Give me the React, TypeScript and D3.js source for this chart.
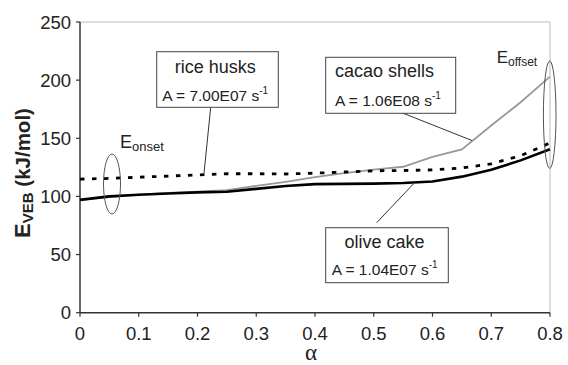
import React from "react";
import * as d3 from "d3";

const alphas = [0, 0.05, 0.1, 0.15, 0.2, 0.25, 0.3, 0.35, 0.4, 0.45, 0.5, 0.55, 0.6, 0.65, 0.7, 0.75, 0.8];
const oliveCake = [97, 100, 101.5, 102.5, 103.5, 104, 106.5, 109, 110.6, 110.8, 111, 111.5, 112.8, 117, 122.9, 131, 140.6];
const riceHusks = [114.9, 115.5, 116.5, 117.5, 118.5, 119.5, 119.5, 119.3, 120, 121, 122, 122.3, 122.8, 124.5, 128, 135, 146];
const cacaoShells = [97, 99.5, 101.5, 103, 104, 105.5, 109, 112.5, 116.5, 120, 123, 125.5, 134, 140.5, 161, 181, 203];
const xTicks = [0, 0.1, 0.2, 0.3, 0.4, 0.5, 0.6, 0.7, 0.8];
const yTicks = [0, 50, 100, 150, 200, 250];

const W = 568, H = 365;
const FONT = "'Liberation Sans', Arial, sans-serif";

export default function App() {
  const x = d3.scaleLinear().domain([0, 0.8]).range([80, 550]);
  const y = d3.scaleLinear().domain([0, 250]).range([312.7, 22]);
  const line = d3.line<number>().x((_, i) => x(alphas[i])).y((d) => y(d));

  return (
    <svg width={W} height={H} style={{ position: "absolute", left: 0, top: 0, background: "#fff" }} fontFamily={FONT}>
      {/* frame */}
      <line x1={x(0)} x2={x(0.8)} y1={y(250)} y2={y(250)} stroke="#bbb" strokeWidth={1} />
      <line x1={x(0.8)} x2={x(0.8)} y1={y(250)} y2={y(0)} stroke="#bbb" strokeWidth={1} />
      {/* axes */}
      <line x1={x(0)} x2={x(0)} y1={y(250)} y2={y(0)} stroke="#333" strokeWidth={1.5} />
      <line x1={x(0)} x2={x(0.8)} y1={y(0)} y2={y(0)} stroke="#333" strokeWidth={1.5} />
      {yTicks.map((t) => (
        <g key={"y" + t}>
          <line x1={x(0) - 4} x2={x(0)} y1={y(t)} y2={y(t)} stroke="#333" strokeWidth={1.2} />
          <text x={71} y={y(t) + 6.5} textAnchor="end" fontSize={18.5} fill="#222">{t}</text>
        </g>
      ))}
      {xTicks.map((t) => (
        <g key={"x" + t}>
          <line x1={x(t)} x2={x(t)} y1={y(0)} y2={y(0) + 4} stroke="#333" strokeWidth={1.2} />
          <text x={x(t)} y={339.5} textAnchor="middle" fontSize={18.5} fill="#222">{t === 0 ? "0" : String(t)}</text>
        </g>
      ))}
      <text x={311} y={360} textAnchor="middle" fontSize={23} fontFamily="'Liberation Serif', 'Times New Roman', serif" fill="#222">α</text>
      <text transform="translate(30,173) rotate(-90)" textAnchor="middle" fontWeight="bold" fill="#222">
        <tspan fontSize={22}>E</tspan>
        <tspan fontSize={15} dy={3}>VEB</tspan>
        <tspan fontSize={20.5} dy={-3}> (kJ/mol)</tspan>
      </text>

      {/* series */}
      <path d={line(cacaoShells) || ""} fill="none" stroke="#999" strokeWidth={1.8} />
      <path d={line(riceHusks) || ""} fill="none" stroke="#000" strokeWidth={2.8} strokeDasharray="4.5,7.5" />
      <path d={line(oliveCake) || ""} fill="none" stroke="#000" strokeWidth={2.6} />

      {/* ellipses */}
      <ellipse cx={112} cy={184} rx={8.5} ry={30} fill="none" stroke="#555" strokeWidth={1} />
      <ellipse cx={549.7} cy={114.7} rx={6.3} ry={53.7} fill="none" stroke="#555" strokeWidth={1} />
      <text x={120} y={148} fontSize={18} fill="#222">E<tspan fontSize={13} dy={3}>onset</tspan></text>
      <text x={496.7} y={63.3} fontSize={17} fill="#222">E<tspan fontSize={12} dy={3}>offset</tspan></text>

      {/* connectors */}
      <line x1={210.7} y1={107.3} x2={204} y2={173.3} stroke="#333" strokeWidth={1} />
      <line x1={400} y1={112} x2={472} y2={140.5} stroke="#333" strokeWidth={1} />
      <line x1={376.7} y1={222.7} x2={413.3} y2={184} stroke="#333" strokeWidth={1} />

      {/* boxes */}
      <rect x={156.7} y={51.7} width={121.6} height={55.6} fill="#fff" stroke="#444" strokeWidth={1} />
      <text x={215.3} y={72.7} textAnchor="middle" fontSize={18} fill="#222">rice husks</text>
      <text x={162.3} y={100.7} fontSize={15.5} fill="#222">A = 7.00E07 s<tspan fontSize={10} dy={-7}>-1</tspan></text>

      <rect x={325.7} y={57.3} width={130} height={56} fill="#fff" stroke="#444" strokeWidth={1} />
      <text x={335} y={77.3} fontSize={18} fill="#222">cacao shells</text>
      <text x={335} y={106} fontSize={15.5} fill="#222">A = 1.06E08 s<tspan fontSize={10} dy={-7}>-1</tspan></text>

      <rect x={325.7} y={227.7} width={122.6} height={55} fill="#fff" stroke="#444" strokeWidth={1} />
      <text x={384.5} y={248.3} textAnchor="middle" fontSize={18} fill="#222">olive cake</text>
      <text x={331.7} y={275} fontSize={15.5} fill="#222">A = 1.04E07 s<tspan fontSize={10} dy={-7}>-1</tspan></text>
    </svg>
  );
}
